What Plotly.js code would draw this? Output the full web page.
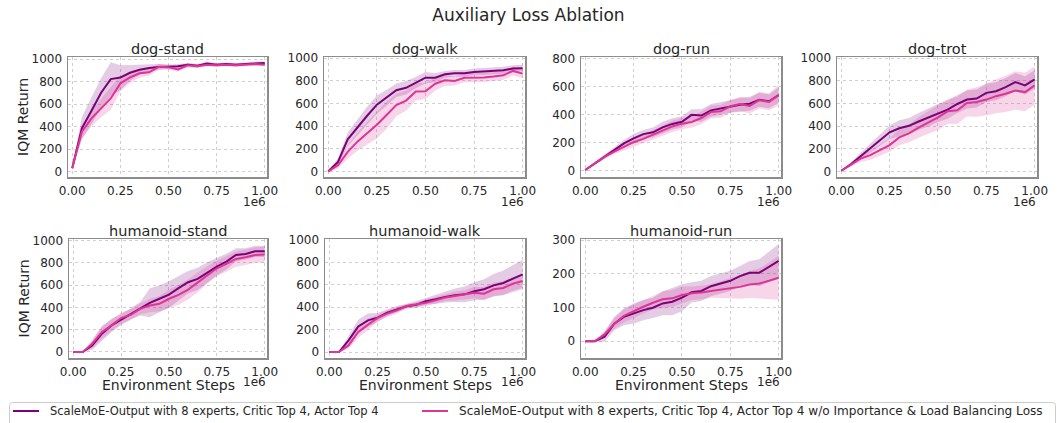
<!DOCTYPE html>
<html>
<head>
<meta charset="utf-8">
<script src="https://cdn.plot.ly/plotly-3.0.1.min.js"></script>
<style>html,body{margin:0;padding:0;background:#fff;}#chart{width:1057px;height:423px;}</style>
</head>
<body>
<div id="chart"></div>
<script>
// Environment steps (x1e6)
const steps = [0, 0.05, 0.1, 0.15, 0.2, 0.25, 0.3, 0.35, 0.4, 0.45, 0.5, 0.55, 0.6, 0.65, 0.7, 0.75, 0.8, 0.85, 0.9, 0.95, 1.0];

const seriesNames = [
  "ScaleMoE-Output with 8 experts, Critic Top 4, Actor Top 4",
  "ScaleMoE-Output with 8 experts, Critic Top 4, Actor Top 4 w/o Importance &amp; Load Balancing Loss"
];
const taskNames = ["dog-stand", "dog-walk", "dog-run", "dog-trot", "humanoid-stand", "humanoid-walk", "humanoid-run"];

// dog-stand
const dogStandFull      = [30, 385, 540, 700, 822, 835, 878, 905, 920, 930, 932, 935, 950, 940, 960, 950, 955, 950, 955, 962, 965];
const dogStandFullCI    = [5, 100, 120, 130, 150, 110, 70, 45, 35, 25, 20, 20, 15, 15, 15, 15, 15, 15, 15, 15, 15];
const dogStandAbl       = [30, 355, 473, 562, 650, 784, 837, 873, 882, 932, 926, 908, 945, 935, 950, 945, 950, 945, 950, 955, 950];
const dogStandAblCI     = [5, 60, 70, 80, 100, 70, 50, 40, 30, 25, 20, 20, 20, 15, 15, 15, 15, 15, 15, 15, 15];
// dog-walk
const dogWalkFull       = [0, 83, 283, 390, 491, 589, 649, 717, 738, 783, 827, 827, 857, 866, 866, 878, 882, 888, 893, 908, 911];
const dogWalkFullCI     = [5, 30, 60, 70, 80, 80, 70, 60, 60, 50, 50, 40, 30, 30, 30, 30, 30, 30, 30, 30, 30];
const dogWalkAbl        = [0, 54, 172, 262, 336, 411, 497, 586, 625, 705, 708, 774, 804, 798, 827, 827, 830, 838, 848, 887, 863];
const dogWalkAblCI      = [5, 30, 60, 80, 100, 120, 120, 100, 90, 80, 70, 60, 50, 40, 40, 40, 40, 40, 40, 40, 40];
// dog-run
const dogRunFull        = [5, 53, 101, 144, 195, 232, 262, 275, 310, 335, 350, 400, 395, 432, 445, 460, 472, 480, 508, 497, 541];
const dogRunFullCI      = [5, 10, 15, 20, 25, 30, 30, 35, 40, 40, 40, 40, 45, 45, 45, 45, 50, 50, 50, 50, 55];
const dogRunAbl         = [5, 55, 100, 137, 168, 204, 228, 257, 288, 317, 337, 349, 377, 421, 425, 461, 478, 464, 505, 493, 541];
const dogRunAblCI       = [5, 10, 15, 20, 25, 30, 30, 35, 40, 40, 40, 40, 45, 45, 45, 45, 50, 55, 60, 60, 75];
// dog-trot
const dogTrotFull       = [5, 62, 134, 202, 277, 345, 381, 402, 440, 476, 515, 545, 595, 634, 643, 693, 708, 744, 789, 759, 812];
const dogTrotFullCI     = [5, 15, 30, 40, 50, 60, 70, 70, 75, 80, 80, 80, 80, 80, 80, 80, 80, 80, 80, 80, 80];
const dogTrotAbl        = [5, 60, 113, 143, 188, 232, 300, 336, 387, 432, 476, 530, 539, 604, 613, 634, 664, 685, 714, 700, 759];
const dogTrotAblCI      = [5, 20, 30, 40, 50, 60, 70, 80, 90, 100, 110, 110, 120, 120, 130, 140, 150, 160, 170, 170, 170];
// humanoid-stand
const humStandFull      = [0, 0, 60, 164, 239, 290, 343, 388, 442, 478, 516, 573, 627, 657, 716, 767, 812, 872, 881, 904, 904];
const humStandFullCI    = [0, 0, 40, 60, 60, 50, 50, 60, 130, 120, 120, 110, 100, 100, 90, 80, 70, 60, 50, 50, 50];
const humStandAbl       = [0, 0, 75, 179, 239, 305, 334, 388, 418, 433, 478, 513, 561, 627, 692, 752, 791, 836, 851, 872, 875];
const humStandAblCI     = [0, 0, 40, 60, 50, 50, 50, 50, 60, 70, 80, 90, 90, 90, 80, 70, 70, 70, 70, 70, 70];
// humanoid-walk
const humWalkFull       = [0, 0, 104, 228, 282, 306, 350, 380, 407, 421, 451, 469, 490, 504, 513, 540, 558, 593, 614, 653, 691];
const humWalkFullCI     = [0, 0, 40, 60, 60, 40, 30, 30, 20, 30, 30, 40, 50, 60, 70, 80, 90, 100, 110, 120, 130];
const humWalkAbl        = [0, 0, 59, 178, 243, 303, 341, 371, 409, 421, 439, 460, 484, 498, 510, 528, 519, 558, 570, 608, 632];
const humWalkAblCI      = [0, 0, 30, 50, 50, 30, 30, 30, 20, 20, 30, 30, 30, 40, 40, 50, 60, 60, 60, 60, 60];
// humanoid-run
const humRunFull        = [0, 0, 13, 52, 72, 82, 92, 99, 112, 117, 129, 145, 149, 163, 171, 179, 193, 203, 203, 221, 238];
const humRunFullCI      = [0, 0, 15, 20, 25, 30, 30, 30, 35, 40, 40, 30, 30, 30, 30, 30, 30, 35, 40, 45, 50];
const humRunAbl         = [0, 0, 20, 52, 75, 89, 102, 114, 124, 127, 137, 142, 144, 149, 153, 156, 161, 168, 171, 179, 188];
const humRunAblCI       = [0, 0, 10, 15, 20, 20, 20, 20, 25, 25, 25, 20, 20, 20, 25, 30, 35, 40, 45, 55, 65];

const xTickVals = [0, 0.25, 0.5, 0.75, 1.0];
const xTickText = ["0.00", "0.25", "0.50", "0.75", "1.00"];

// ---------- layout geometry ----------
const W = 1057, H = 423;
const colors = ["#7a0177", "#dd3497"];
const bands = ["rgba(122,1,119,0.2)", "rgba(221,52,151,0.2)"];
const font = "DejaVu Sans, sans-serif";
const txt = "#262626";
const px = v => v / W, py = v => 1 - v / H;

const panels = [
  {full: dogStandFull, fullCI: dogStandFullCI, abl: dogStandAbl, ablCI: dogStandAblCI, px: [68, 267], py: [57, 177], yr: [-48, 1018], dt: 200},
  {full: dogWalkFull, fullCI: dogWalkFullCI, abl: dogWalkAbl, ablCI: dogWalkAblCI, px: [324, 525], py: [57, 177], yr: [-50, 1010], dt: 200},
  {full: dogRunFull, fullCI: dogRunFullCI, abl: dogRunAbl, ablCI: dogRunAblCI, px: [581, 781], py: [57, 177], yr: [-45, 814], dt: 200},
  {full: dogTrotFull, fullCI: dogTrotFullCI, abl: dogTrotAbl, ablCI: dogTrotAblCI, px: [837, 1037], py: [57, 177], yr: [-50, 1010], dt: 200},
  {full: humStandFull, fullCI: humStandFullCI, abl: humStandAbl, ablCI: humStandAblCI, px: [69, 267], py: [239, 358], yr: [-54, 1015], dt: 200},
  {full: humWalkFull, fullCI: humWalkFullCI, abl: humWalkAbl, ablCI: humWalkAblCI, px: [325, 525], py: [239, 358], yr: [-53, 1005], dt: 200},
  {full: humRunFull, fullCI: humRunFullCI, abl: humRunAbl, ablCI: humRunAblCI, px: [581, 781], py: [239, 358], yr: [-50, 303], dt: 100}
];

const traces = [];
const layout = {
  width: W, height: H,
  margin: {l: 0, r: 0, t: 0, b: 0, autoexpand: false},
  paper_bgcolor: "#fff", plot_bgcolor: "#fff",
  font: {family: font, color: txt, size: 12},
  title: {text: "Auxiliary Loss Ablation", x: 0.5, xanchor: "center", y: 1 - 15 / H, yanchor: "middle", font: {size: 17, color: txt, family: font}},
  showlegend: false,
  annotations: [],
  shapes: []
};

panels.forEach((p, i) => {
  const n = i + 1;
  const xa = "x" + (n === 1 ? "" : n), ya = "y" + (n === 1 ? "" : n);
  const series = [[p.full, p.fullCI], [p.abl, p.ablCI]];
  series.forEach((s, k) => {
    const upper = s[0].map((v, j) => v + s[1][j]);
    const lower = s[0].map((v, j) => v - s[1][j]);
    traces.push({x: steps, y: upper, xaxis: xa, yaxis: ya, mode: "lines", line: {width: 0, color: bands[k]}, showlegend: false, hoverinfo: "skip"});
    traces.push({x: steps, y: lower, xaxis: xa, yaxis: ya, mode: "lines", line: {width: 0, color: bands[k]}, fill: "tonexty", fillcolor: bands[k], showlegend: false, hoverinfo: "skip"});
  });
  series.forEach((s, k) => {
    traces.push({x: steps, y: s[0], xaxis: xa, yaxis: ya, mode: "lines", name: seriesNames[k],
      line: {color: colors[k], width: 2}, showlegend: false});
  });
  const axBase = {
    showline: true, mirror: true, linecolor: "#8c8c8c", linewidth: 1.5,
    showgrid: true, gridcolor: "#cfcfcf", griddash: "dot", gridwidth: 1,
    zeroline: false, ticks: "", fixedrange: true,
    tickfont: {size: 12, color: txt, family: font}
  };
  layout["xaxis" + (n === 1 ? "" : n)] = Object.assign({}, axBase, {
    domain: [px(p.px[0]), px(p.px[1])], anchor: ya, range: [-0.022, 1.012],
    tickvals: xTickVals, ticktext: xTickText, ticklabelstandoff: 2
  });
  layout["yaxis" + (n === 1 ? "" : n)] = Object.assign({}, axBase, {
    domain: [py(p.py[1]), py(p.py[0])], anchor: xa, range: p.yr, dtick: p.dt, tick0: 0,
    ticklabelstandoff: 2
  });
  const cx = px((p.px[0] + p.px[1]) / 2);
  const row2 = p.py[0] > 200;
  layout.annotations.push({text: taskNames[i], xref: "paper", yref: "paper", x: cx, y: py(p.py[0] - 8),
    xanchor: "center", yanchor: "middle", showarrow: false, font: {size: 14.5, color: txt, family: font}});
  layout.annotations.push({text: "1e6", xref: "paper", yref: "paper", x: px(p.px[1] + 1), y: py(row2 ? 382 : 202),
    xanchor: "right", yanchor: "middle", showarrow: false, font: {size: 12, color: txt, family: font}});
  if (row2) {
    layout.annotations.push({text: "Environment Steps", xref: "paper", yref: "paper", x: cx, y: py(385),
      xanchor: "center", yanchor: "middle", showarrow: false, font: {size: 14, color: txt, family: font}});
  }
  if (p.px[0] < 100) {
    layout.annotations.push({text: "IQM Return", xref: "paper", yref: "paper", x: px(23), y: py((p.py[0] + p.py[1]) / 2),
      xanchor: "center", yanchor: "middle", textangle: -90, showarrow: false, font: {size: 14, color: txt, family: font}});
  }
});

// ---------- legend (drawn as frame + sample lines + text) ----------
const lgX0 = 9.5, lgX1 = 1055.5, lgY0 = 402.5, lgY1 = 440, r = 3;
layout.shapes.push({
  type: "path", xref: "paper", yref: "paper",
  path: `M ${px(lgX0 + r)},${py(lgY0)} L ${px(lgX1 - r)},${py(lgY0)} Q ${px(lgX1)},${py(lgY0)} ${px(lgX1)},${py(lgY0 + r)} ` +
        `L ${px(lgX1)},${py(lgY1)} L ${px(lgX0)},${py(lgY1)} L ${px(lgX0)},${py(lgY0 + r)} Q ${px(lgX0)},${py(lgY0)} ${px(lgX0 + r)},${py(lgY0)} Z`,
  line: {color: "#cccccc", width: 1}, fillcolor: "rgba(255,255,255,0.8)", layer: "above"
});
const legendItems = [{x0: 13, x1: 39, tx: 48, fs: 11.5}, {x0: 422, x1: 448, tx: 457, fs: 12.1}];
legendItems.forEach((it, k) => {
  layout.shapes.push({type: "line", xref: "paper", yref: "paper", x0: px(it.x0), x1: px(it.x1), y0: py(411), y1: py(411),
    line: {color: colors[k], width: 2}, layer: "above"});
  layout.annotations.push({text: seriesNames[k], xref: "paper", yref: "paper", x: px(it.tx), y: py(411),
    xanchor: "left", yanchor: "middle", showarrow: false, font: {size: it.fs, color: txt, family: font}});
});

Plotly.newPlot("chart", traces, layout, {displayModeBar: false, staticPlot: true});
</script>
</body>
</html>
